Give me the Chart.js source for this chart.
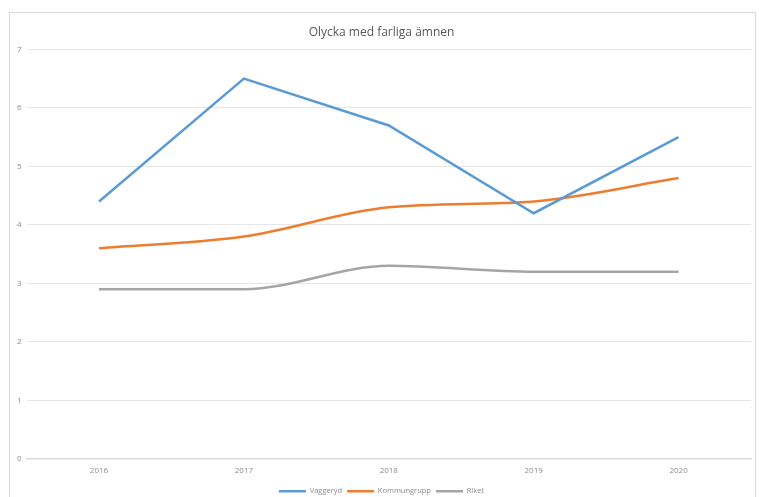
<!DOCTYPE html>
<html>
<head>
<meta charset="utf-8">
<script src="https://cdn.jsdelivr.net/npm/chart.js@4"></script>
<style>
  html, body { margin: 0; padding: 0; background: #fff; overflow: hidden; }
  #box {
    position: absolute; left: 9px; top: 12px;
    width: 747px; height: 494px;
    border: 1px solid #d9d9d9; box-sizing: border-box;
  }
  canvas { display: block; }
</style>
</head>
<body>
<div id="box"><canvas id="chart"></canvas></div>
<script>
const years = ['2016', '2017', '2018', '2019', '2020']
const vaggeryd = [4.4, 6.5, 5.7, 4.2, 5.5]
const kommungrupp = [3.6, 3.8, 4.3, 4.4, 4.8]
const riket = [2.9, 2.9, 3.3, 3.2, 3.2]

const font = "'Open Sans', 'Liberation Sans', sans-serif"

new Chart(document.getElementById('chart').getContext('2d'), {
  type: 'line',
  data: {
    labels: years,
    datasets: [
      { label: 'Vaggeryd', data: vaggeryd, borderColor: '#5B9BD5', backgroundColor: '#5B9BD5', borderWidth: 2.5, tension: 0, pointRadius: 0 },
      { label: 'Kommungrupp', data: kommungrupp, borderColor: '#ED7D31', backgroundColor: '#ED7D31', borderWidth: 2.5, cubicInterpolationMode: 'monotone', pointRadius: 0 },
      { label: 'Riket', data: riket, borderColor: '#A5A5A5', backgroundColor: '#A5A5A5', borderWidth: 2.5, cubicInterpolationMode: 'monotone', pointRadius: 0 }
    ]
  },
  options: {
    responsive: true,
    maintainAspectRatio: false,
    animation: false,
    layout: { padding: { left: 2, right: 4, top: 8, bottom: 0 } },
    scales: {
      x: {
        offset: true,
        grid: { display: false, drawTicks: false },
        border: { color: '#d9d9d9', width: 1.5 },
        ticks: { color: '#8c8c8c', font: { family: font, size: 8 }, padding: 7 }
      },
      y: {
        min: 0, max: 7,
        grid: { color: '#e6e6e6', drawTicks: false },
        border: { display: false },
        ticks: { stepSize: 1, color: '#8c8c8c', font: { family: font, size: 8 }, padding: 5 }
      }
    },
    plugins: {
      title: {
        display: true, text: 'Olycka med farliga ämnen', color: '#595959',
        font: { family: font, size: 12, weight: 'normal' }, padding: { top: 4, bottom: 10 }
      },
      legend: {
        position: 'bottom',
        labels: { color: '#8c8c8c', font: { family: font, size: 7.5 }, boxWidth: 27, boxHeight: 0, padding: 5 }
      },
      tooltip: { enabled: false }
    }
  }
})
</script>
</body>
</html>
